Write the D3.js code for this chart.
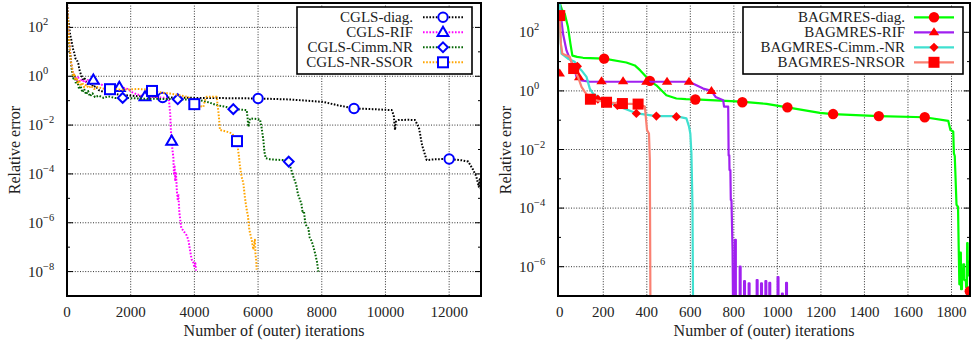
<!DOCTYPE html>
<html>
<head>
<meta charset="utf-8">
<script src="https://cdn.jsdelivr.net/npm/d3@7"></script>
<style>
  body { margin: 0; background: #fff; }
  svg { display: block; }
  text { font-family: "Liberation Serif", "Times New Roman", serif; fill: #222; }
</style>
</head>
<body>
<svg id="chart" width="971" height="347"></svg>
<script>
// ---------------- data (iteration, relative error) ----------------
const cglsDiag = [[0,900],[10,680],[40,200],[94,55],[150,25],[199,11.5],[230,9],[260,5.5],[300,5],[356,3.3],[380,2.2],[408,1.5],[450,1.1],[513,0.69],[560,0.8],[620,0.5],[700,0.45],[760,0.5],[827,0.36],[900,0.4],[1000,0.27],[1141,0.23],[1300,0.2],[1500,0.19],[1700,0.17],[1874,0.166],[2300,0.15],[2920,0.145],[3004,0.135],[4000,0.13],[5000,0.127],[6000,0.123],[7000,0.112],[8050,0.089],[8500,0.065],[9012,0.048],[9600,0.045],[10196,0.041],[10260,0.025],[10300,0.0063],[10330,0.014],[10400,0.016],[10700,0.0165],[10928,0.016],[11050,0.008],[11150,0.0015],[11294,3.7e-4],[11600,4e-4],[12000,4.1e-4],[12400,3.6e-4],[12600,3.2e-4],[12750,1.5e-4],[12850,8e-5],[12930,3e-5],[12960,6e-5],[12990,2.5e-5],[13000,4e-5]];
const cglsDiagMarks = [[3004,0.135],[6000,0.123],[9012,0.048],[12000,4.1e-4]];

const cglsRif = [[0,900],[30,150],[60,30],[90,15],[120,4],[150,2.5],[170,1.6],[210,1.2],[250,1.0],[300,0.7],[350,0.9],[400,0.6],[480,0.75],[550,0.55],[650,0.7],[750,0.6],[827,0.69],[900,0.55],[1000,0.5],[1150,0.42],[1300,0.4],[1450,0.36],[1643,0.35],[1800,0.33],[1900,0.3],[2050,0.22],[2200,0.18],[2449,0.145],[2800,0.14],[3100,0.13],[3200,0.11],[3240,0.03],[3266,4.6e-3],[3287,2.2e-3],[3310,1e-3],[3338,5.1e-4],[3360,9e-5],[3380,2e-4],[3400,5e-5],[3420,1.2e-4],[3450,2e-5],[3480,8e-6],[3495,1.5e-5],[3530,2.5e-6],[3560,1.2e-6],[3590,6e-7],[3640,5e-7],[3705,3.8e-7],[3760,3e-7],[3810,2e-7],[3860,8e-8],[3915,3.1e-8],[3960,2.5e-8],[4000,1.5e-8],[4030,2.2e-8],[4050,1.1e-8]];
const cglsRifMarks = [[827,0.69],[1643,0.35],[2449,0.145],[3287,2.2e-3]];

const cglsCimm = [[0,900],[30,100],[60,25],[100,8],[130,3],[160,1.5],[200,0.8],[240,1.0],[280,0.5],[330,0.6],[380,0.3],[430,0.4],[480,0.22],[540,0.3],[600,0.18],[660,0.25],[720,0.15],[800,0.2],[880,0.14],[1000,0.16],[1150,0.13],[1300,0.15],[1500,0.13],[1748,0.13],[2100,0.125],[2500,0.12],[3000,0.118],[3476,0.115],[3800,0.11],[4176,0.105],[4450,0.085],[4700,0.066],[5000,0.055],[5222,0.045],[5450,0.043],[5642,0.041],[5670,0.02],[5694,8.5e-3],[5720,0.012],[5746,0.0186],[5900,0.018],[6060,0.017],[6110,0.008],[6165,2.5e-3],[6200,8e-4],[6240,4.4e-4],[6400,3.9e-4],[6600,3.8e-4],[6793,3.7e-4],[6962,3.2e-4],[7040,1.5e-4],[7107,7.8e-5],[7160,5e-5],[7200,3.5e-5],[7250,1.5e-5],[7316,8.7e-6],[7360,6e-6],[7400,2.5e-6],[7440,3e-6],[7480,1e-6],[7526,7e-7],[7580,6e-7],[7620,2.5e-7],[7680,1.8e-7],[7735,1.07e-7],[7800,5e-8],[7850,2.5e-8],[7892,1e-8]];
const cglsCimmMarks = [[1748,0.13],[3476,0.115],[5222,0.045],[6962,3.2e-4]];

const cglsSsor = [[0,900],[25,300],[50,60],[80,20],[110,6],[140,3],[170,2],[200,1.0],[230,1.3],[260,0.7],[300,0.9],[340,0.5],[380,0.7],[430,0.4],[480,0.55],[540,0.35],[600,0.45],[680,0.33],[760,0.4],[850,0.3],[950,0.36],[1100,0.32],[1200,0.3],[1350,0.295],[1500,0.3],[1700,0.28],[1978,0.29],[2200,0.3],[2449,0.29],[2669,0.25],[2900,0.22],[3234,0.195],[3500,0.17],[3759,0.145],[3900,0.12],[3998,0.072],[4150,0.06],[4281,0.056],[4330,0.1],[4385,0.145],[4700,0.145],[4760,0.03],[4804,6.3e-3],[5014,5.4e-3],[5171,4.6e-3],[5250,3.5e-3],[5338,2.2e-3],[5400,5e-4],[5432,2e-4],[5480,8e-5],[5537,4.2e-5],[5590,1e-5],[5642,3.4e-6],[5680,2e-6],[5720,6e-7],[5746,3.8e-7],[5800,2e-7],[5851,8e-8],[5880,1.5e-7],[5900,2e-7],[5920,5e-8],[5940,3e-8],[5956,1.2e-8]];
const cglsSsorMarks = [[1350,0.295],[2669,0.25],[3998,0.072],[5338,2.2e-3]];

const bagDiag = [[0,1000],[10,600],[23,427],[38,151],[49,41],[58,16],[80,14.5],[107,13.5],[204,12.6],[306,9.3],[345,7.4],[370,5],[398,3.0],[414,2.2],[444,1.55],[490,0.71],[536,0.55],[580,0.52],[623,0.51],[832,0.43],[950,0.36],[1046,0.275],[1195,0.178],[1256,0.162],[1466,0.138],[1677,0.126],[1785,0.095],[1795,0.046],[1808,0.041],[1811,7.4e-3],[1815,6e-3],[1823,1.3e-4],[1830,1.1e-4],[1833,5e-6],[1836,2.5e-7],[1839,2.5e-7],[1840,3e-6],[1843,3e-6],[1844,1.7e-7],[1848,1.7e-7],[1849,5e-7],[1853,5e-7],[1854,1.2e-6],[1858,1.2e-6],[1859,3.5e-7],[1866,3.5e-7],[1867,2e-7],[1871,2e-7],[1872,6.4e-6],[1874,6.4e-6],[1875,5e-7],[1880,5e-7],[1881,1.5e-6],[1885,1.5e-6]];
const bagDiagMarks = [[204,12.6],[414,2.2],[623,0.51],[839,0.41],[1046,0.275],[1256,0.162],[1466,0.138],[1677,0.126],[1884,1.45e-7]];

const bagRif = [[0,1000],[8,250],[15,89],[31,24],[46,12.6],[64,7.4],[77,3.0],[100,2.3],[138,2.05],[300,2.05],[594,2.05],[628,1.55],[659,1.2],[697,1.0],[716,0.62],[751,0.48],[755,0.29],[774,0.29],[776,6.3e-3],[779,6.3e-3],[780,2e-3],[784,2e-3],[786,1.9e-4],[789,1.9e-4],[794,3.8e-6],[797,1e-8]];
const bagRifSpikeIter = [807,829,849,870,907,927,947,965,1003,1023,1042];
const bagRifSpikeTop = [8.3e-6,1e-6,3.2e-7,2.7e-7,3.5e-7,2.7e-7,3.2e-7,2.8e-7,4.4e-7,1.2e-7,2.8e-7];
const bagRifMarks = [[0,3.9],[89,2.9],[192,2.14],[291,2.14],[398,2.05],[493,2.05],[594,2.05],[697,1.0]];

const bagCimm = [[0,1000],[2,90],[8,18.6],[38,12.6],[69,9.8],[84,6.6],[100,5],[123,3.0],[138,1.2],[153,0.81],[184,0.55],[260,0.32],[355,0.17],[444,0.138],[533,0.138],[582,0.115],[594,0.06],[600,0.035],[605,7.4e-3],[610,1.1e-4],[613,1e-8]];
const bagCimmMarks = [[81,6.9],[175,0.52],[265,0.32],[352,0.17],[444,0.138],[536,0.132]];

const bagNrsor = [[0,427],[5,41],[12,18.6],[46,14.5],[64,5.8],[84,3.0],[100,1.38],[115,0.93],[141,0.52],[215,0.41],[288,0.37],[360,0.355],[391,0.29],[401,0.046],[410,0.035],[414,4.4e-3],[417,1e-8]];
const bagNrsorMarks = [[0,372],[64,5.8],[141,0.52],[215,0.41],[288,0.37],[360,0.355]];

const leftXTicks = [0, 2000, 4000, 6000, 8000, 10000, 12000];
const rightXTicks = [0, 200, 400, 600, 800, 1000, 1200, 1400, 1600, 1800];
const leftYExp = [-8, -6, -4, -2, 0, 2];
const rightYExp = [-6, -4, -2, 0, 2];
const leftLegend = ['CGLS-diag.', 'CGLS-RIF', 'CGLS-Cimm.NR', 'CGLS-NR-SSOR'];
const rightLegend = ['BAGMRES-diag.', 'BAGMRES-RIF', 'BAGMRES-Cimm.-NR', 'BAGMRES-NRSOR'];
const xTitle = 'Number of (outer) iterations';
const yTitle = 'Relative error';

// purple spikes at the bottom of the RIF curve: pulses from below the axis
const RIF_FLOOR = 1e-8;
const bagRifFull = bagRif.slice();
bagRifSpikeIter.forEach((it, i) => {
  bagRifFull.push([it - 2, RIF_FLOOR], [it - 2, bagRifSpikeTop[i]],
                  [it + 2, bagRifSpikeTop[i]], [it + 2, RIF_FLOOR]);
});

const svg = d3.select('#chart');

function drawMarker(g, type, x, y, filled, color) {
  let el;
  if (type === 'circle') {
    el = g.append('circle').attr('cx', x).attr('cy', y).attr('r', filled ? 5.2 : 4.7);
  } else if (type === 'square') {
    const s = filled ? 11 : 10;
    el = g.append('rect').attr('x', x - s / 2).attr('y', y - s / 2).attr('width', s).attr('height', s);
  } else if (type === 'triangle') {
    const w = filled ? 5.2 : 5.4, h = filled ? 4 : 4.6;
    el = g.append('path').attr('d', `M${x},${y - h - 1}L${x + w},${y + h - 1}L${x - w},${y + h - 1}Z`);
  } else {
    const d = filled ? 4.6 : 4.9;
    el = g.append('path').attr('d', `M${x},${y - d}L${x + d},${y}L${x},${y + d}L${x - d},${y}Z`);
  }
  if (filled) el.attr('fill', color).attr('stroke', 'none');
  else el.attr('fill', '#fff').attr('stroke', color).attr('stroke-width', 2);
}

function drawPanel(cfg) {
  const { L, R, T, B } = cfg;
  const x = d3.scaleLinear().domain(cfg.xDomain).range([L, R]);
  const y = d3.scaleLog().domain(cfg.yDomain).range([B, T]);
  const g = svg.append('g');

  const clipId = 'clip' + cfg.id;
  svg.append('defs').append('clipPath').attr('id', clipId)
    .append('rect').attr('x', L).attr('y', T).attr('width', R - L).attr('height', B - T);

  // grid
  cfg.xTicks.filter(t => x(t) > L + 3 && x(t) < R - 3).forEach(t => {
    g.append('line').attr('x1', x(t)).attr('x2', x(t)).attr('y1', T).attr('y2', B)
      .attr('stroke', '#333').attr('stroke-width', 1).attr('stroke-dasharray', '1,1.6');
  });
  cfg.yExp.forEach(e => {
    g.append('line').attr('x1', L).attr('x2', R).attr('y1', y(10 ** e)).attr('y2', y(10 ** e))
      .attr('stroke', '#333').attr('stroke-width', 1).attr('stroke-dasharray', '1,1.6');
  });
  // ticks at every decade, both sides
  const lo = Math.ceil(Math.log10(cfg.yDomain[0])), hi = Math.floor(Math.log10(cfg.yDomain[1]));
  d3.range(lo, hi + 1).forEach(e => {
    const yy = y(10 ** e);
    const len = cfg.yExp.includes(e) ? 6 : 3;
    g.append('line').attr('x1', L).attr('x2', L + len).attr('y1', yy).attr('y2', yy).attr('stroke', '#000').attr('stroke-width', 1);
    g.append('line').attr('x1', R - len).attr('x2', R).attr('y1', yy).attr('y2', yy).attr('stroke', '#000').attr('stroke-width', 1);
  });

  // series
  const plot = g.append('g').attr('clip-path', `url(#${clipId})`);
  const line = d3.line().x(d => x(d[0])).y(d => y(Math.max(d[1], 1e-12)));
  cfg.series.forEach(s => {
    const p = plot.append('path').datum(s.data).attr('d', line)
      .attr('fill', 'none').attr('stroke', s.color)
      .attr('stroke-width', cfg.dotted ? 2 : 2.2)
      .attr('stroke-linejoin', 'round');
    if (cfg.dotted) p.attr('stroke-dasharray', '1.6,1.6');
    s.marks.forEach(m => drawMarker(plot, s.marker, x(m[0]), y(m[1]), !cfg.dotted, cfg.markColor));
  });

  // frame
  g.append('rect').attr('x', L).attr('y', T).attr('width', R - L).attr('height', B - T)
    .attr('fill', 'none').attr('stroke', '#000').attr('stroke-width', 2);

  // tick labels
  cfg.xTicks.forEach(t => {
    g.append('text').attr('x', x(t)).attr('y', B + 21).attr('text-anchor', 'middle')
      .attr('font-size', 15).text(t);
  });
  cfg.yExp.forEach(e => {
    const tx = g.append('text').attr('x', L - 39).attr('y', y(10 ** e) + 5).attr('font-size', 15);
    tx.append('tspan').text('10');
    tx.append('tspan').attr('dy', -7).attr('font-size', 10.5).text(e < 0 ? '\u2212' + (-e) : e);
  });

  // axis titles
  g.append('text').attr('x', (L + R) / 2).attr('y', B + 40).attr('text-anchor', 'middle')
    .attr('font-size', 16).text(xTitle);
  g.append('text').attr('transform', `translate(${L - 47},${150}) rotate(-90)`)
    .attr('text-anchor', 'middle').attr('font-size', 16).text(yTitle);

  // legend
  const lg = cfg.legend;
  g.append('rect').attr('x', lg.x0).attr('y', 7).attr('width', lg.x1 - lg.x0).attr('height', 67)
    .attr('fill', '#fff').attr('stroke', '#000').attr('stroke-width', 1.6);
  cfg.series.forEach((s, i) => {
    const yy = 17.3 + i * 15;
    g.append('text').attr('x', lg.textEnd).attr('y', yy + 5).attr('text-anchor', 'end')
      .attr('font-size', 15).text(cfg.labels[i]);
    const ln = g.append('line').attr('x1', lg.lineStart).attr('x2', lg.lineStart + 40)
      .attr('y1', yy).attr('y2', yy).attr('stroke', s.color).attr('stroke-width', cfg.dotted ? 2 : 2.2);
    if (cfg.dotted) ln.attr('stroke-dasharray', '1.6,1.6');
    drawMarker(g, s.marker, lg.lineStart + 20, yy, !cfg.dotted, cfg.markColor);
  });
}

drawPanel({
  id: 'L', L: 67, R: 481, T: 3, B: 296,
  xDomain: [0, 13000], yDomain: [1e-9, 1e3],
  xTicks: leftXTicks, yExp: leftYExp, dotted: true, markColor: '#0000ff',
  labels: leftLegend,
  legend: { x0: 297, x1: 472, textEnd: 413, lineStart: 423 },
  series: [
    { data: cglsDiag, marks: cglsDiagMarks, color: '#000000', marker: 'circle' },
    { data: cglsRif, marks: cglsRifMarks, color: '#ff00ff', marker: 'triangle' },
    { data: cglsCimm, marks: cglsCimmMarks, color: '#006400', marker: 'diamond' },
    { data: cglsSsor, marks: cglsSsorMarks, color: '#ffa500', marker: 'square' }
  ]
});

drawPanel({
  id: 'R', L: 558, R: 970, T: 3, B: 296,
  xDomain: [-8, 1885], yDomain: [1e-7, 1e3],
  xTicks: rightXTicks, yExp: rightYExp, dotted: false, markColor: '#ff0000',
  labels: rightLegend,
  legend: { x0: 743, x1: 963, textEnd: 905, lineStart: 914 },
  series: [
    { data: bagDiag, marks: bagDiagMarks, color: '#00ff00', marker: 'circle' },
    { data: bagRifFull, marks: bagRifMarks, color: '#a020f0', marker: 'triangle' },
    { data: bagCimm, marks: bagCimmMarks, color: '#40e0d0', marker: 'diamond' },
    { data: bagNrsor, marks: bagNrsorMarks, color: '#fa8072', marker: 'square' }
  ]
});
</script>
</body>
</html>
